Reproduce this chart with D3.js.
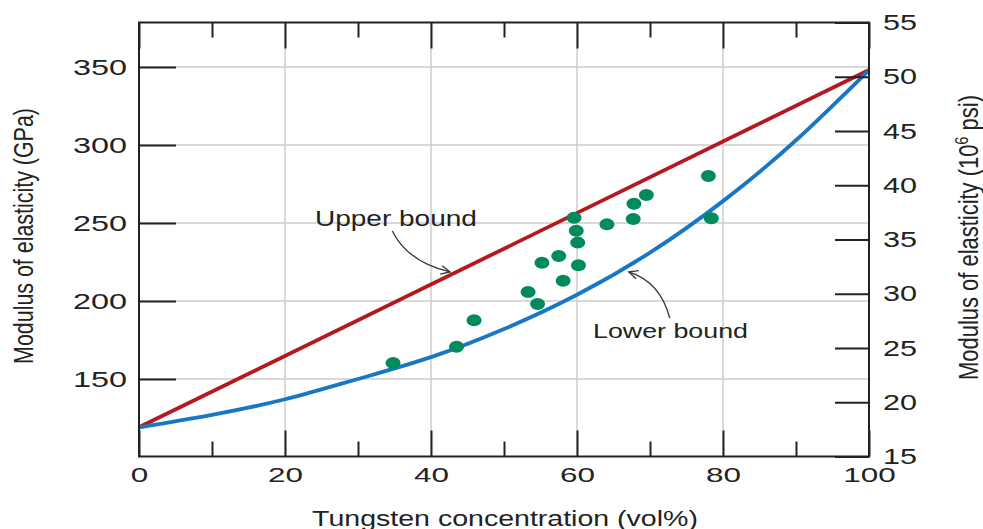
<!DOCTYPE html>
<html>
<head>
<meta charset="utf-8">
<script src="https://cdn.jsdelivr.net/npm/d3@7"></script>
<style>
  body { margin: 0; background: #fff; }
  text { font-family: "Liberation Sans", Arial, sans-serif; fill: #222; }
</style>
</head>
<body>
<svg id="chart" width="983" height="529"></svg>
<script>
// upper bound (rule of mixtures, straight line) read at both ends
const upperConc = [0, 100];
const upperE = [119, 348];

// lower bound curve
const lowerConc = [0, 10, 20, 30, 40, 50, 60, 70, 80, 90, 100];
const lowerE = [119, 127, 137, 150, 164, 182, 204, 231, 264, 303, 348];

// measured composites
const dotConc = [34.8, 43.5, 45.9, 53.3, 54.6, 55.2, 57.5, 58.1, 59.6, 59.9, 60.1, 60.2, 64.1, 67.7, 67.8, 69.5, 78.0, 78.4];
const dotE = [160.2, 170.7, 187.6, 205.8, 198.1, 224.5, 228.8, 213.0, 253.4, 245.0, 237.4, 222.9, 249.1, 252.5, 262.3, 267.9, 280.1, 253.0];

// ticks
const xTicks = [0, 20, 40, 60, 80, 100];
const xMinor = [10, 30, 50, 70, 90];
const gpaTicks = [150, 200, 250, 300, 350];
const psiTicks = [15, 20, 25, 30, 35, 40, 45, 50, 55];

const L = 139, R = 869, T = 22.5, B = 456.5;
const svg = d3.select("#chart");

const x = d3.scaleLinear([0, 100], [L, R]);
const yL = d3.scaleLinear([100.3, 378.5], [B, T]);
const yR = d3.scaleLinear([15, 55], [B, T]);

// gridlines
svg.append("g")
  .selectAll("line")
  .data(xTicks.filter(d => d > 0 && d < 100))
  .join("line")
  .attr("x1", d => x(d)).attr("x2", d => x(d))
  .attr("y1", T).attr("y2", B)
  .attr("stroke", "#cccccc").attr("stroke-width", 1.5);

svg.append("g")
  .selectAll("line")
  .data(gpaTicks)
  .join("line")
  .attr("x1", L).attr("x2", R)
  .attr("y1", d => yL(d)).attr("y2", d => yL(d))
  .attr("stroke", "#cccccc").attr("stroke-width", 1.5);

// bound curves
const line = d3.line()
  .x(d => x(d[0]))
  .y(d => yL(d[1]))
  .curve(d3.curveNatural);

svg.append("path")
  .datum(d3.zip(upperConc, upperE))
  .attr("d", line)
  .attr("fill", "none")
  .attr("stroke", "#b3191f")
  .attr("stroke-width", 3.8);

svg.append("path")
  .datum(d3.zip(lowerConc, lowerE))
  .attr("d", line)
  .attr("fill", "none")
  .attr("stroke", "#1877c4")
  .attr("stroke-width", 3.8);

// data points
svg.append("g")
  .selectAll("ellipse")
  .data(d3.zip(dotConc, dotE))
  .join("ellipse")
  .attr("cx", d => x(d[0]))
  .attr("cy", d => yL(d[1]))
  .attr("rx", 7.5)
  .attr("ry", 6)
  .attr("fill", "#008a5e");

// frame
svg.append("rect")
  .attr("x", L).attr("y", T)
  .attr("width", R - L).attr("height", B - T)
  .attr("fill", "none")
  .attr("stroke", "#222")
  .attr("stroke-width", 2);

function styleAxis(g) {
  g.select(".domain").remove();
  g.selectAll(".tick line").attr("stroke", "#222").attr("stroke-width", 2);
  g.selectAll("text").style("font-family", null).attr("fill", "#222");
}

// left axis (GPa)
const gLeft = svg.append("g")
  .attr("transform", `translate(${L},0)`)
  .call(d3.axisLeft(yL).tickValues(gpaTicks).tickSizeInner(-37).tickSizeOuter(0).tickPadding(12))
  .call(styleAxis);
gLeft.selectAll("text")
  .attr("font-size", 22)
  .attr("textLength", 54)
  .attr("lengthAdjust", "spacingAndGlyphs");

// right axis (10^6 psi)
const gRight = svg.append("g")
  .attr("transform", `translate(${R},0)`)
  .call(d3.axisRight(yR).tickValues(psiTicks).tickSizeInner(-34).tickSizeOuter(0).tickPadding(14))
  .call(styleAxis);
gRight.selectAll("text")
  .attr("font-size", 22)
  .attr("textLength", 34)
  .attr("lengthAdjust", "spacingAndGlyphs");

// bottom axis
const gBottom = svg.append("g")
  .attr("transform", `translate(0,${B})`)
  .call(d3.axisBottom(x).tickValues(xTicks).tickSizeInner(-26).tickSizeOuter(0).tickPadding(11))
  .call(styleAxis);
gBottom.selectAll("text")
  .attr("font-size", 21)
  .attr("textLength", d => String(d).length * 17.5)
  .attr("lengthAdjust", "spacingAndGlyphs");
svg.append("g")
  .attr("transform", `translate(0,${B})`)
  .call(d3.axisBottom(x).tickValues(xMinor).tickSizeInner(-15).tickSizeOuter(0).tickFormat(""))
  .call(styleAxis);

// top axis
svg.append("g")
  .attr("transform", `translate(0,${T})`)
  .call(d3.axisTop(x).tickValues(xTicks).tickSizeInner(-26).tickSizeOuter(0).tickFormat(""))
  .call(styleAxis);
svg.append("g")
  .attr("transform", `translate(0,${T})`)
  .call(d3.axisTop(x).tickValues(xMinor).tickSizeInner(-15).tickSizeOuter(0).tickFormat(""))
  .call(styleAxis);

// text stretched to the width seen in the picture
function label(px, py, rot, anchor, size, width, build) {
  const g = svg.append("g").attr("transform", `translate(${px},${py}) rotate(${rot})`);
  const t = g.append("text").attr("text-anchor", anchor).attr("font-size", size);
  build(t);
  const w = t.node().getComputedTextLength();
  t.attr("transform", `scale(${width / w},1)`);
  return t;
}

label(505, 526, 0, "middle", 22, 386, t => t.text("Tungsten concentration (vol%)"));
label(33, 236, -90, "middle", 27, 256, t => t.text("Modulus of elasticity (GPa)"));
label(978, 237.5, -90, "middle", 27, 285, t => {
  t.append("tspan").text("Modulus of elasticity (10");
  t.append("tspan").attr("font-size", 18).attr("dy", -10).text("6");
  t.append("tspan").attr("dy", 10).text(" psi)");
});

// annotations
label(x(24.1), yL(248.1), 0, "start", 21.5, 162, t => t.text("Upper bound"));
label(x(62.2), yL(176.1), 0, "start", 21, 155, t => t.text("Lower bound"));

function arrow(p0, c, p1) {
  const a = [x(p0[0]), yL(p0[1])], b = [x(c[0]), yL(c[1])], e = [x(p1[0]), yL(p1[1])];
  svg.append("path")
    .attr("d", `M${a[0]},${a[1]} Q${b[0]},${b[1]} ${e[0]},${e[1]}`)
    .attr("fill", "none").attr("stroke", "#333").attr("stroke-width", 1.3);
  const ang = Math.atan2(e[1] - b[1], e[0] - b[0]);
  const len = 10;
  const h = [ang + Math.PI - 0.45, ang + Math.PI + 0.45]
    .map(t => [e[0] + len * Math.cos(t), e[1] + len * Math.sin(t)]);
  svg.append("path")
    .attr("d", `M${h[0][0]},${h[0][1]} L${e[0]},${e[1]} L${h[1][0]},${h[1][1]}`)
    .attr("fill", "none").attr("stroke", "#333").attr("stroke-width", 1.3);
}

arrow([34.7, 244.9], [36.8, 225], [42.6, 218.6]);
arrow([72.7, 189.1], [71.4, 212.2], [67.1, 218.6]);
</script>
</body>
</html>
